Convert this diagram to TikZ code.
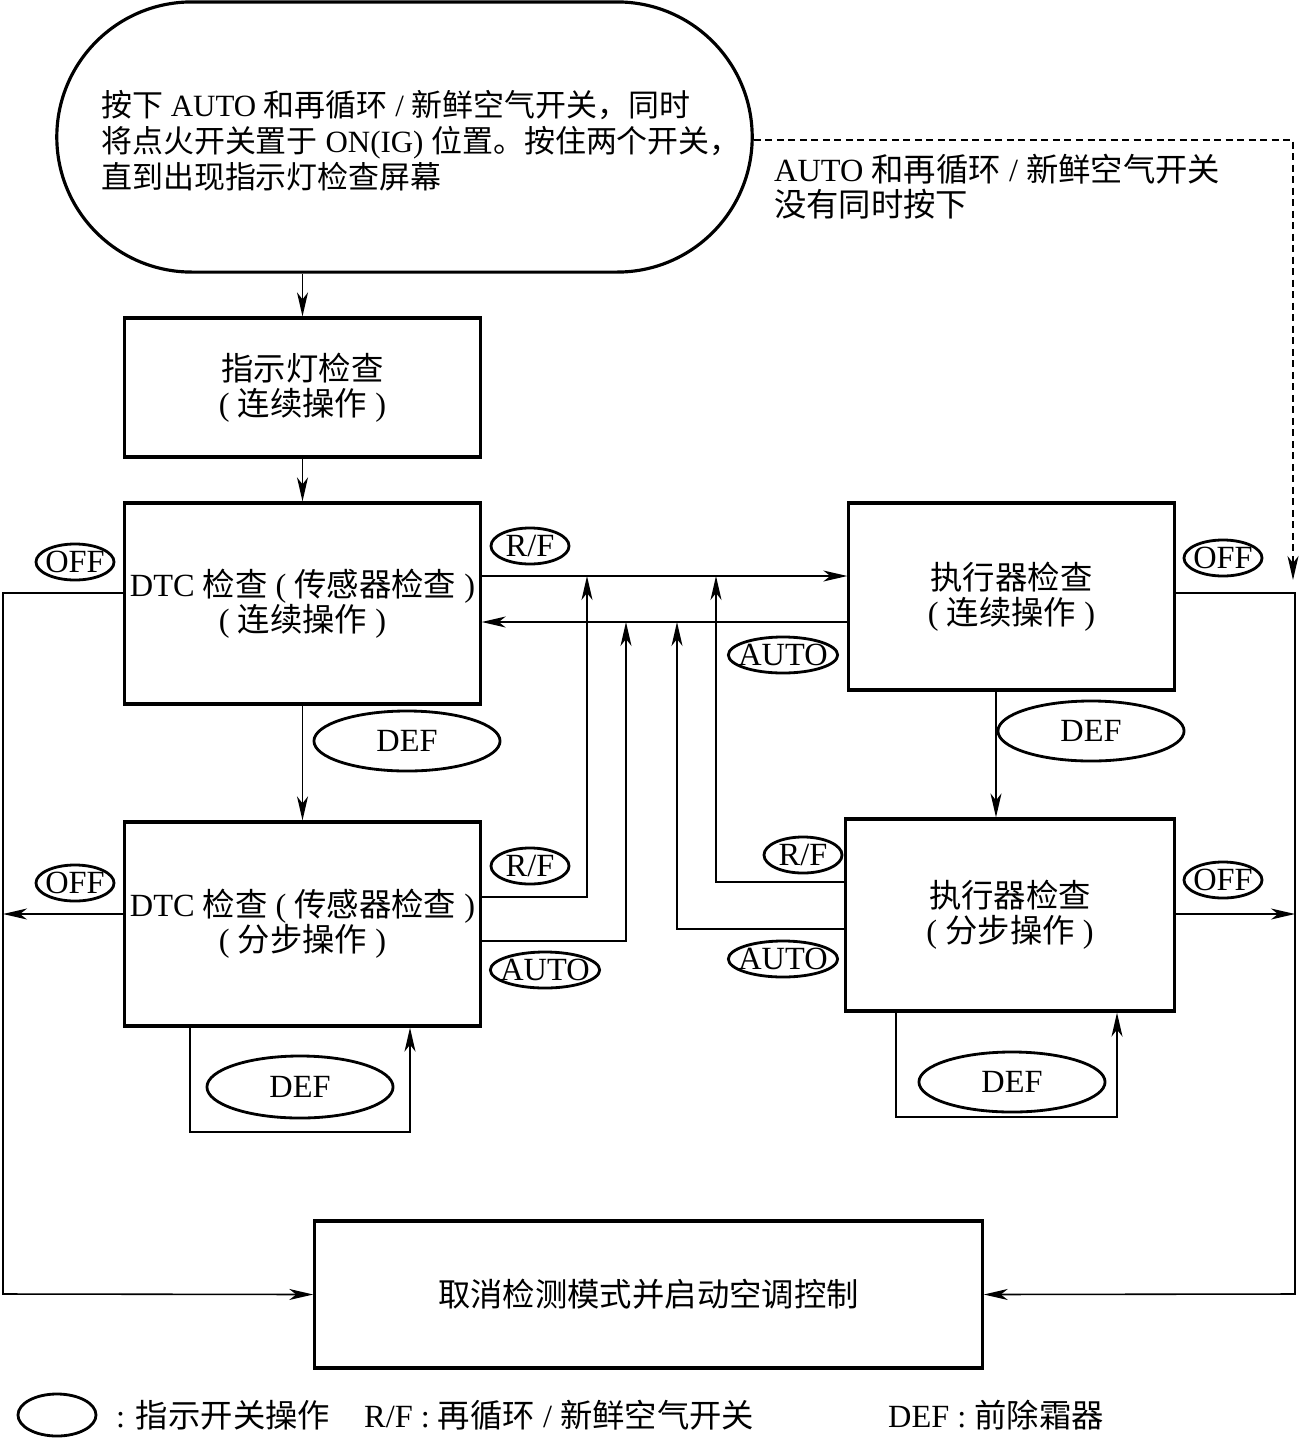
\documentclass[tikz,border=0pt]{standalone}
\usepackage{fontspec}
\setmainfont{Liberation Serif}
\newfontfamily\cjk{Noto Sans CJK SC}
\usetikzlibrary{arrows.meta,positioning,shapes.geometric}
\newcommand{\zh}[1]{{\cjk #1}}

\begin{document}
\begin{tikzpicture}[x=0.01cm,y=-0.01cm,>={Stealth[length=2.4mm,width=1.1mm,inset=0.7mm]},
  every node/.style={font=\fontsize{9.2}{10}\selectfont,inner sep=1pt},
  stepbox/.style={draw,line width=0.9pt,align=center},
  keyoval/.style={draw,ellipse,line width=0.8pt,minimum height=0.36cm,inner xsep=-0.06cm,inner ysep=-0.06cm},
  link/.style={line width=0.45pt}]
\useasboundingbox (0,0) rectangle (1299,1439);
\node[draw,line width=0.9pt,rounded corners=1.35cm,minimum width=6.95cm,minimum height=2.7cm] (start) at (404.5,137) {};
\node[anchor=west,align=left,font=\fontsize{8.8}{10.2}\selectfont] (starttext) at (97,141) {\zh{按下} AUTO \zh{和再循环} / \zh{新鲜空气开关，同时}\\\zh{将点火开关置于} ON(IG) \zh{位置。按住两个开关，}\\\zh{直到出现指示灯检查屏幕}};
\node[stepbox,minimum width=3.55cm,minimum height=1.39cm] (lamp) at (302.5,387.5) {\zh{指示灯检查}\\( \zh{连续操作} )};
\node[stepbox,minimum width=3.55cm,minimum height=2.01cm] (dtcc) at (302.5,603.5) {DTC \zh{检查} ( \zh{传感器检查} )\\( \zh{连续操作} )};
\node[stepbox,minimum width=3.55cm,minimum height=2.04cm] (dtcs) at (302.5,924) {DTC \zh{检查} ( \zh{传感器检查} )\\( \zh{分步操作} )};
\node[stepbox,minimum width=3.25cm,minimum height=1.87cm] (actc) at (1011.5,596.5) {\zh{执行器检查}\\( \zh{连续操作} )};
\node[stepbox,minimum width=3.28cm,minimum height=1.92cm] (acts) at (1010,915) {\zh{执行器检查}\\( \zh{分步操作} )};
\node[stepbox,minimum width=6.67cm,minimum height=1.47cm] (quit) at (648.5,1294.5) {\zh{取消检测模式并启动空调控制}};
\node[anchor=west,align=left] (nosw) at (770,187) {AUTO \zh{和再循环} / \zh{新鲜空气开关}\\\zh{没有同时按下}};
% junction points and corners
\coordinate (j1) at (587,576);
\coordinate (j2) at (626,622);
\coordinate (j3) at (716,576);
\coordinate (j4) at (677,622);
\coordinate (lw) at (3,1294);
\coordinate (re) at (1295,1294);
\coordinate (dz) at (1293,580);
\coordinate (lp3) at (190,1132);
\coordinate (lq3) at (410,1132);
\coordinate (lp5) at (896,1117);
\coordinate (lq5) at (1117,1117);
% main flow
\draw[link,->] (lamp.north |- start.south) -- (lamp.north);
\draw[link,->] (lamp.south) -- (dtcc.north);
\draw[link,->] (dtcc.south) -- (dtcs.north);
\draw[link,->] ([xshift=-0.155cm]actc.south) -- ([xshift=-0.155cm]actc.south |- acts.north);
\draw[link,->] (dtcc.east |- j1) -- (actc.west |- j1);
\draw[link,->] (actc.west |- j2) -- (dtcc.east |- j2);
\draw[link,->] (dtcs.east |- 0,897) -| (j1);
\draw[link,->] (dtcs.east |- 0,941) -| (j2);
\draw[link,->] (acts.west |- 0,882) -| (j3);
\draw[link,->] (acts.west |- 0,929) -| (j4);
\draw[link,->] (dtcs.south -| lp3) -- (lp3) -- (lq3) -- (lq3 |- dtcs.south);
\draw[link,->] (acts.south -| lp5) -- (lp5) -- (lq5) -- (lq5 |- acts.south);
% OFF exits
\draw[link,->] (dtcc.west |- 0,593) -| (lw) -- (quit.west);
\draw[link,->] (dtcs.west |- 0,914) -- (lw |- 0,914);
\draw[link,->] (actc.east |- 0,593) -| (re) -- (quit.east);
\draw[link,->] (acts.east |- 0,914) -- (re |- 0,914);
\draw[link,->,dash pattern=on 0.07cm off 0.045cm] (start.east |- 0,140) -| (dz);
% switch labels
\node[keyoval,minimum width=0.78cm] (rf1) at (530,546) {R/F};
\node[keyoval,minimum width=0.78cm] (rf2) at (530,866) {R/F};
\node[keyoval,minimum width=0.78cm] (rf3) at (803,855) {R/F};
\node[keyoval,minimum width=1.08cm] (au1) at (783,655) {AUTO};
\node[keyoval,minimum width=1.08cm] (au2) at (545,970) {AUTO};
\node[keyoval,minimum width=1.08cm] (au3) at (783,959) {AUTO};
\node[keyoval,minimum width=0.78cm] (off1) at (75,562) {OFF};
\node[keyoval,minimum width=0.78cm] (off2) at (75,883) {OFF};
\node[keyoval,minimum width=0.78cm] (off3) at (1223,558) {OFF};
\node[keyoval,minimum width=0.78cm] (off4) at (1223,880) {OFF};
\node[keyoval,minimum width=1.86cm,minimum height=0.6cm] (def1) at (407,741) {DEF};
\node[keyoval,minimum width=1.86cm,minimum height=0.6cm] (def2) at (1091,731) {DEF};
\node[keyoval,minimum width=1.86cm,minimum height=0.62cm] (def3) at (300,1087) {DEF};
\node[keyoval,minimum width=1.86cm,minimum height=0.6cm] (def4) at (1012,1082) {DEF};
% legend
\node[keyoval,minimum width=0.78cm,minimum height=0.42cm] (keyov) at (57,1415) {};
\node[anchor=west] (keytx1) at (112,1415) {: \zh{指示开关操作}};
\node[anchor=west] (keytx2) at (360,1415) {R/F : \zh{再循环} / \zh{新鲜空气开关}};
\node[anchor=west] (keytx3) at (884,1415) {DEF : \zh{前除霜器}};
\end{tikzpicture}
\end{document}
